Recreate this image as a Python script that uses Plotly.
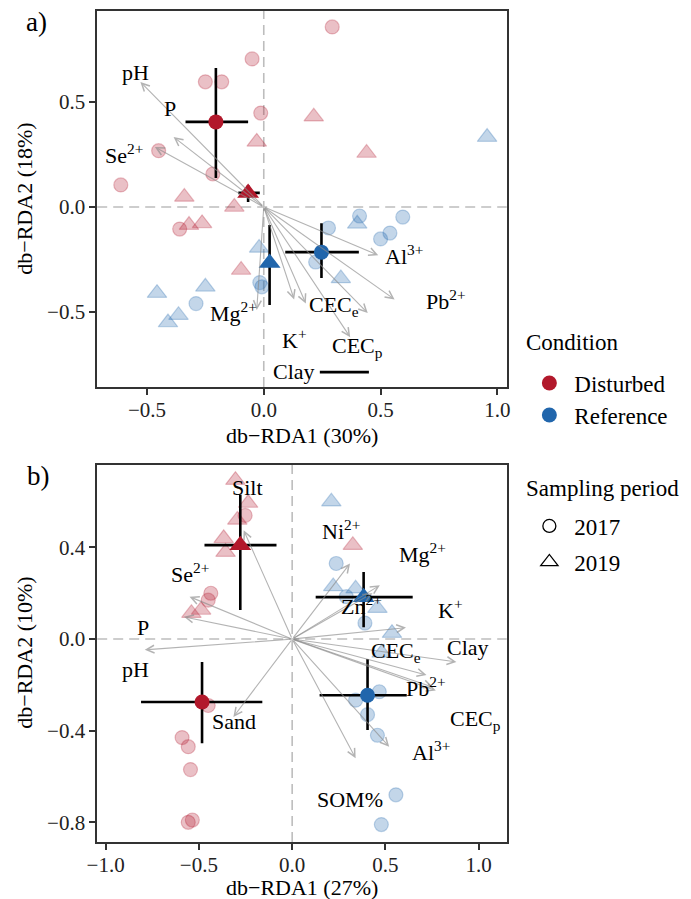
import plotly.graph_objects as go

W, H = 691, 899
FONT = "Liberation Serif"
RED, BLUE = "#B2182B", "#2166AC"
RED_L, BLUE_L = "rgba(178,24,43,0.27)", "rgba(33,102,172,0.27)"
ARROW_C = "rgba(140,140,140,0.65)"

# ---------------- Panel a data ----------------
a_dist17_x = [0.293, -0.05, -0.25, -0.18, -0.013, -0.45, -0.218, -0.612, -0.36]
a_dist17_y = [0.857, 0.705, 0.596, 0.596, 0.447, 0.268, 0.157, 0.105, -0.105]
a_dist19_x = [0.214, 0.44, -0.03, -0.34, -0.126, -0.32, -0.264, -0.097]
a_dist19_y = [0.43, 0.257, 0.31, 0.048, 0.0, -0.086, -0.078, -0.30]
a_ref17_x = [0.41, 0.595, 0.277, 0.54, 0.50, 0.222, -0.017, -0.008, -0.29]
a_ref17_y = [-0.043, -0.048, -0.10, -0.124, -0.152, -0.262, -0.36, -0.38, -0.46]
a_ref19_x = [0.956, 0.40, 0.33, -0.02, -0.457, -0.25, -0.365, -0.41]
a_ref19_y = [0.333, -0.08, -0.34, -0.195, -0.41, -0.38, -0.515, -0.55]

# group means: Disturbed 2017, Disturbed 2019, Reference 2017, Reference 2019
a_mean_x = [-0.205, -0.067, 0.247, 0.025]
a_mean_y = [0.405, 0.067, -0.215, -0.267]
a_mean_xlo = [-0.335, -0.109, 0.092, 0.018]
a_mean_xhi = [-0.067, -0.017, 0.407, 0.032]
a_mean_ylo = [0.138, 0.024, -0.338, -0.467]
a_mean_yhi = [0.662, 0.105, -0.077, -0.086]

a_vec_x = [-0.528, -0.386, -0.466, -0.03, 0.13, 0.18, 0.445, 0.37, 0.56, 0.49]
a_vec_y = [0.595, 0.333, 0.286, -0.49, -0.44, -0.46, -0.505, -0.62, -0.44, -0.23]

a_lab_text = ["pH", "P", "Se<sup>2+</sup>", "Mg<sup>2+</sup>", "K<sup>+</sup>", "Clay",
              "CEC<sub>e</sub>", "CEC<sub>p</sub>", "Pb<sup>2+</sup>", "Al<sup>3+</sup>"]
a_lab_x = [-0.549, -0.40, -0.60, -0.13, 0.13, 0.13, 0.30, 0.40, 0.78, 0.60]
a_lab_y = [0.64, 0.47, 0.25, -0.50, -0.63, -0.785, -0.47, -0.665, -0.443, -0.23]
a_seg_x = [0.24, 0.45]
a_seg_y = [-0.786, -0.786]

# ---------------- Panel b data ----------------
b_dist17_x = [-0.252, -0.436, -0.45, -0.45, -0.59, -0.557, -0.545, -0.535, -0.557]
b_dist17_y = [0.54, 0.20, 0.17, -0.29, -0.43, -0.47, -0.57, -0.79, -0.80]
b_dist19_x = [-0.304, -0.236, -0.294, -0.367, -0.357, -0.488, -0.54, 0.325]
b_dist19_y = [0.694, 0.594, 0.52, 0.44, 0.38, 0.127, 0.113, 0.41]
b_ref17_x = [0.236, 0.29, 0.39, 0.467, 0.34, 0.404, 0.457, 0.556, 0.478]
b_ref17_y = [0.33, 0.185, 0.07, -0.23, -0.267, -0.33, -0.42, -0.68, -0.81]
b_ref19_x = [0.21, 0.22, 0.34, 0.457, 0.535, 0.48]
b_ref19_y = [0.60, 0.23, 0.22, 0.135, 0.026, -0.06]

b_mean_x = [-0.483, -0.278, 0.404, 0.383]
b_mean_y = [-0.275, 0.41, -0.245, 0.183]
b_mean_xlo = [-0.81, -0.47, 0.147, 0.126]
b_mean_xhi = [-0.16, -0.084, 0.614, 0.646]
b_mean_ylo = [-0.455, 0.127, -0.397, 0.052]
b_mean_yhi = [-0.10, 0.63, -0.087, 0.293]

b_vec_x = [-0.26, -0.55, -0.58, -0.79, -0.315, 0.31, 0.47, 0.43, 0.61, 0.88, 0.72, 0.755, 0.77, 0.52, 0.34]
b_vec_y = [0.475, 0.185, 0.097, -0.047, -0.34, 0.33, 0.235, 0.20, 0.05, -0.10, -0.157, -0.21, -0.225, -0.47, -0.52]

b_lab_text = ["Silt", "Se<sup>2+</sup>", "P", "pH", "Sand", "Ni<sup>2+</sup>", "Mg<sup>2+</sup>",
              "Zn<sup>2+</sup>", "K<sup>+</sup>", "Clay", "CEC<sub>e</sub>", "Pb<sup>2+</sup>",
              "CEC<sub>p</sub>", "Al<sup>3+</sup>", "SOM%"]
b_lab_x = [-0.24, -0.55, -0.80, -0.84, -0.31, 0.26, 0.70, 0.37, 0.85, 0.94, 0.555, 0.72, 0.98, 0.745, 0.31]
b_lab_y = [0.66, 0.29, 0.052, -0.135, -0.36, 0.475, 0.375, 0.15, 0.13, -0.035, -0.057, -0.21, -0.354, -0.49, -0.70]

a_xticks = [-0.5, 0.0, 0.5, 1.0]
a_yticks = [-0.5, 0.0, 0.5]
b_xticks = [-1.0, -0.5, 0.0, 0.5, 1.0]
b_yticks = [-0.8, -0.4, 0.0, 0.4]

cond_names = ["Disturbed", "Reference"]
period_names = ["2017", "2019"]


def lab(v):
    s = f"{abs(v):.1f}"
    return ("\u2212" + s) if v < 0 else s


def px(x):
    return x / W


def py(y):
    return 1 - y / H


fig = go.Figure()


def add_panel(xa, ya, d17x, d17y, d19x, d19y, r17x, r17y, r19x, r19y,
              mx, my, mxlo, mxhi, mylo, myhi):
    for xs, ys, col, sym, sz in [
        (d17x, d17y, RED_L, "circle", 14), (r17x, r17y, BLUE_L, "circle", 14),
        (d19x, d19y, RED_L, "triangle-up", 17), (r19x, r19y, BLUE_L, "triangle-up", 17)]:
        fig.add_trace(go.Scatter(x=xs, y=ys, mode="markers", xaxis=xa, yaxis=ya,
                                 showlegend=False, hoverinfo="skip",
                                 marker=dict(color=col, symbol=sym, size=sz,
                                             line=dict(color=col, width=1.2))))
    cols = [RED, RED, BLUE, BLUE]
    syms = ["circle", "triangle-up", "circle", "triangle-up"]
    for i in range(4):
        fig.add_trace(go.Scatter(
            x=[mx[i]], y=[my[i]], mode="markers", xaxis=xa, yaxis=ya,
            showlegend=False, hoverinfo="skip",
            error_x=dict(type="data", symmetric=False, array=[mxhi[i] - mx[i]],
                         arrayminus=[mx[i] - mxlo[i]], thickness=2.6, width=0, color="black"),
            error_y=dict(type="data", symmetric=False, array=[myhi[i] - my[i]],
                         arrayminus=[my[i] - mylo[i]], thickness=2.6, width=0, color="black"),
            marker=dict(color=cols[i], symbol=syms[i], size=15 if syms[i] == "circle" else 19,
                        line=dict(width=0))))


add_panel("x", "y", a_dist17_x, a_dist17_y, a_dist19_x, a_dist19_y, a_ref17_x, a_ref17_y,
          a_ref19_x, a_ref19_y, a_mean_x, a_mean_y, a_mean_xlo, a_mean_xhi, a_mean_ylo, a_mean_yhi)
add_panel("x2", "y2", b_dist17_x, b_dist17_y, b_dist19_x, b_dist19_y, b_ref17_x, b_ref17_y,
          b_ref19_x, b_ref19_y, b_mean_x, b_mean_y, b_mean_xlo, b_mean_xhi, b_mean_ylo, b_mean_yhi)

# black segment in panel a
fig.add_trace(go.Scatter(x=a_seg_x, y=a_seg_y, mode="lines", xaxis="x", yaxis="y",
                         showlegend=False, hoverinfo="skip",
                         line=dict(color="black", width=2.6)))

# legend entries (one legend box per entry for exact placement)
leg_markers = [
    dict(color=RED, symbol="circle", size=15),
    dict(color=BLUE, symbol="circle", size=15),
    dict(color="black", symbol="circle-open", size=13, line=dict(width=1.3, color="black")),
    dict(color="black", symbol="triangle-up-open", size=15, line=dict(width=1.3, color="black")),
]
leg_ids = ["legend", "legend2", "legend3", "legend4"]
for name, mk, lid in zip(cond_names + period_names, leg_markers, leg_ids):
    fig.add_trace(go.Scatter(x=[None], y=[None], mode="markers", name=name, legend=lid,
                             marker=mk))

annotations = []
for xs, ys, xr, yr in [(a_vec_x, a_vec_y, "x", "y"), (b_vec_x, b_vec_y, "x2", "y2")]:
    for vx, vy in zip(xs, ys):
        annotations.append(dict(x=vx, y=vy, ax=0, ay=0, xref=xr, yref=yr, axref=xr, ayref=yr,
                                text="", showarrow=True, arrowhead=5, arrowsize=1.4,
                                arrowwidth=1.1, arrowcolor=ARROW_C, standoff=0))
for ts, xs, ys, xr, yr in [(a_lab_text, a_lab_x, a_lab_y, "x", "y"),
                           (b_lab_text, b_lab_x, b_lab_y, "x2", "y2")]:
    for t, lx, ly in zip(ts, xs, ys):
        annotations.append(dict(x=lx, y=ly, xref=xr, yref=yr, text=t, showarrow=False,
                                xanchor="center", yanchor="middle",
                                font=dict(family=FONT, size=22, color="black")))

# axis titles, panel letters, legend titles
tf = dict(family=FONT, size=22, color="black")
lf = dict(family=FONT, size=23, color="black")
paper_txt = [
    (298, 436, "db\u2212RDA1 (30%)", 0, tf, "center"),
    (298, 887, "db\u2212RDA1 (27%)", 0, tf, "center"),
    (14, 199, "db\u2212RDA2 (18%)", -90, tf, "center"),
    (14, 653, "db\u2212RDA2 (10%)", -90, tf, "center"),
    (27, 22, "a)", 0, dict(family=FONT, size=27, color="black"), "center"),
    (29, 476, "b)", 0, dict(family=FONT, size=27, color="black"), "center"),
    (525, 343, "Condition", 0, lf, "left"),
    (525, 488, "Sampling period", 0, lf, "left"),
]
for xx, yy, t, ang, f, xa in paper_txt:
    annotations.append(dict(x=px(xx), y=py(yy), xref="paper", yref="paper", text=t,
                            showarrow=False, textangle=ang, xanchor=xa,
                            yanchor="middle", font=f))

shapes = []
for xr, yr in [("x", "y"), ("x2", "y2")]:
    shapes.append(dict(type="line", xref=xr, yref=yr + " domain", x0=0, x1=0, y0=0, y1=1,
                       layer="below", line=dict(color="#BDBDBD", width=1.6, dash="10px,6px")))
    shapes.append(dict(type="line", xref=xr + " domain", yref=yr, x0=0, x1=1, y0=0, y1=0,
                       layer="below", line=dict(color="#BDBDBD", width=1.6, dash="10px,6px")))


def axis(rng, ticks, dom, anchor, standoff=0):
    return dict(range=rng, domain=dom, anchor=anchor, tickmode="array", tickvals=ticks,
                ticktext=[lab(t) for t in ticks], showgrid=False, zeroline=False,
                showline=True, mirror=True, linecolor="#333333", linewidth=1.6,
                ticks="outside", ticklen=6, tickwidth=1.6, tickcolor="#333333",
                ticklabelstandoff=standoff,
                tickfont=dict(family=FONT, size=21, color="#222222"), fixedrange=True)


def leg(y):
    return dict(x=px(525), y=py(y), xanchor="left", yanchor="middle", itemwidth=40,
                font=dict(family=FONT, size=23), bgcolor="rgba(0,0,0,0)")


fig.update_layout(
    width=W, height=H, margin=dict(l=0, r=0, t=0, b=0),
    paper_bgcolor="white", plot_bgcolor="white",
    font=dict(family=FONT, color="black"),
    xaxis=axis([-0.713, 1.04], a_xticks, [px(89), px(507)], "y", -3),
    yaxis=axis([-0.857, 0.933], a_yticks, [py(387), py(11)], "x"),
    xaxis2=axis([-1.045, 1.15], b_xticks, [px(89), px(507)], "y2", -3),
    yaxis2=axis([-0.886, 0.76], b_yticks, [py(842), py(465)], "x2"),
    annotations=annotations, shapes=shapes,
    legend=leg(383), legend2=leg(415), legend3=leg(526), legend4=leg(562),
)

fig.write_html("out.html")
